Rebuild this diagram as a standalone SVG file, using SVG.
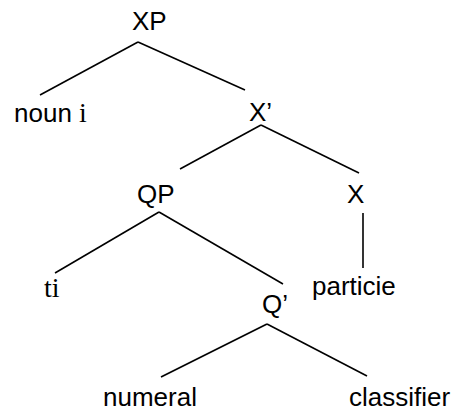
<svg xmlns="http://www.w3.org/2000/svg" width="454" height="411" viewBox="0 0 454 411">
  <style>
    .lbl { font-family: "Liberation Sans", Arial, sans-serif; font-size: 26px; fill: #000; }
    .srf { font-family: "Liberation Serif", "Times New Roman", serif; font-size: 28px; }
    .edge { stroke: #000; stroke-width: 1.6; fill: none; stroke-linecap: butt; }
  </style>
  <rect width="454" height="411" fill="#fff"/>

  <!-- branches of the tree -->
  <g id="connectors">
    <line class="edge" x1="138" y1="42" x2="40" y2="95"/>
    <line class="edge" x1="138" y1="42" x2="245" y2="90"/>
    <line class="edge" x1="261" y1="125" x2="180" y2="169"/>
    <line class="edge" x1="261" y1="125" x2="359" y2="173"/>
    <line class="edge" x1="363" y1="213" x2="363" y2="268"/>
    <line class="edge" x1="159" y1="212" x2="55" y2="273"/>
    <line class="edge" x1="159" y1="212" x2="283" y2="284"/>
    <line class="edge" x1="267" y1="324" x2="161" y2="377"/>
    <line class="edge" x1="267" y1="324" x2="367" y2="376"/>
  </g>

  <g id="node-xp"><text class="lbl" x="132" y="30">XP</text></g>
  <g id="node-noun"><text class="lbl" x="14" y="122">noun <tspan class="srf">i</tspan></text></g>
  <g id="node-xbar"><text class="lbl" x="249" y="121">X’</text></g>
  <g id="node-qp"><text class="lbl" x="137" y="203">QP</text></g>
  <g id="node-x"><text class="lbl" x="347" y="203">X</text></g>
  <g id="node-ti"><text class="lbl srf" x="44" y="297">ti</text></g>
  <g id="node-particle"><text class="lbl" x="312" y="295">particie</text></g>
  <g id="node-qbar"><text class="lbl" x="262" y="313">Q’</text></g>
  <g id="node-numeral"><text class="lbl" x="103" y="406">numeral</text></g>
  <g id="node-classifier"><text class="lbl" x="349" y="406">classifier</text></g>
</svg>
